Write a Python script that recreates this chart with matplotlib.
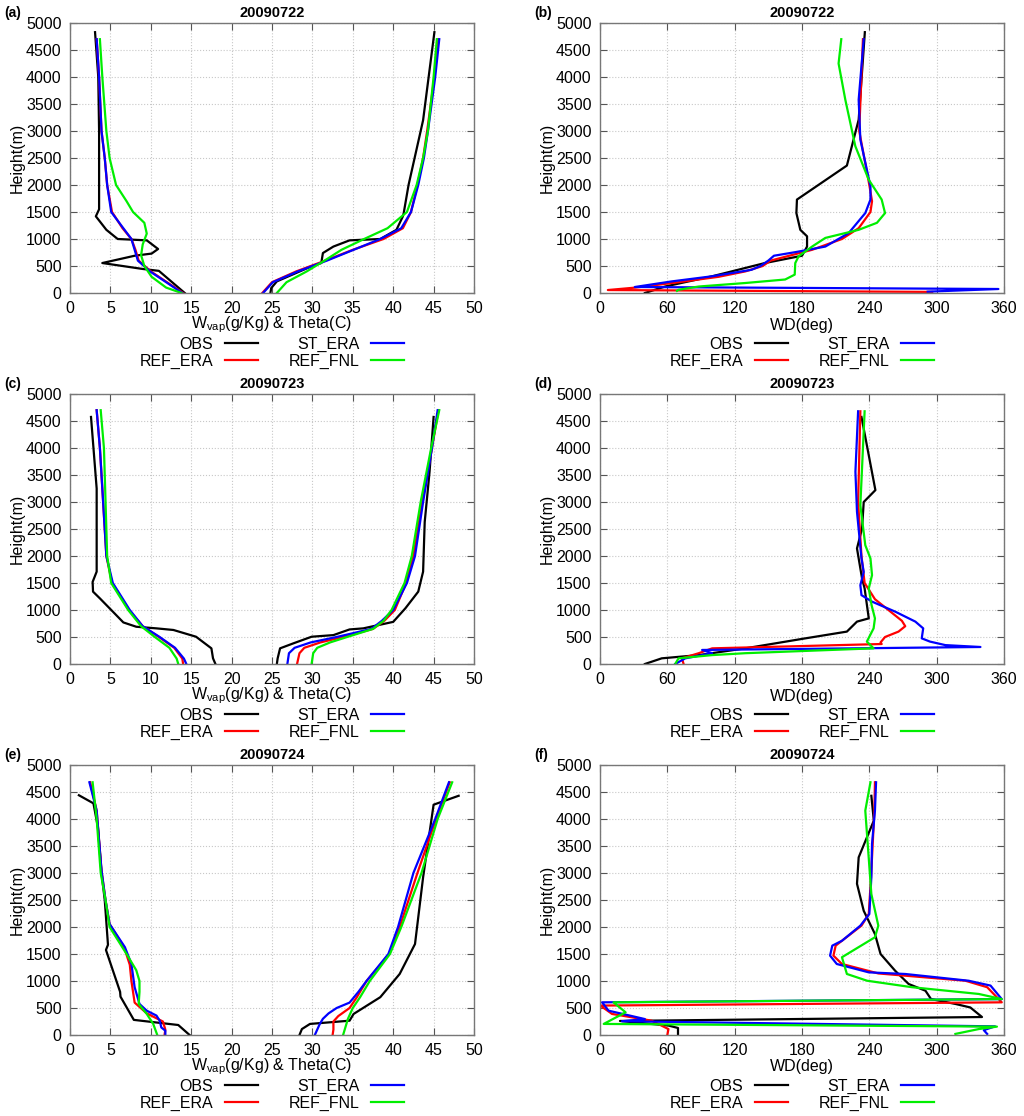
import matplotlib
matplotlib.use("Agg")
import matplotlib.pyplot as plt

plt.rcParams['font.family'] = ['Liberation Sans', 'DejaVu Sans']
plt.rcParams['mathtext.fontset'] = 'custom'
plt.rcParams['mathtext.rm'] = 'Liberation Sans'

# ---------------- DATA ----------------
# 20090722 water vapour (g/kg) / theta (C)
obs_wv_22 = [3.1, 3.5, 3.6, 3.6, 3.2, 4.5, 5.9, 9.5, 10.9, 10.1, 8.0, 4.0, 9.0, 11.0, 14.2]
obs_wvz_22 = [4830, 4000, 3000, 1550, 1420, 1170, 1000, 975, 815, 730, 690, 555, 445, 410, 0]
obs_th_22 = [45.1, 43.7, 41.9, 41.3, 41.2, 40.4, 38.4, 34.6, 32.6, 31.3, 31.1, 29.9, 25.6, 24.9, 24.8]
obs_thz_22 = [4830, 3200, 2000, 1480, 1420, 1170, 1000, 975, 860, 740, 555, 495, 215, 90, 0]
mod_z_22 = [4700, 4000, 3000, 2500, 2000, 1500, 1200, 1000, 800, 600, 400, 200, 0]
st_wv_22 = [3.3, 3.6, 3.9, 4.3, 4.6, 5.1, 6.6, 7.6, 8.0, 8.4, 9.9, 11.9, 13.9]
ref_wv_22 = [3.3, 3.6, 3.9, 4.3, 4.6, 5.2, 6.5, 7.6, 8.1, 8.5, 10.0, 12.0, 14.0]
fnl_wvz_22 = [4700, 4000, 3000, 2500, 2000, 1700, 1500, 1300, 1100, 900, 700, 500, 300, 100, 0]
fnl_wv_22 = [3.7, 4.0, 4.5, 4.9, 5.7, 7.0, 7.8, 9.2, 9.5, 9.0, 8.8, 9.2, 10.1, 11.9, 13.8]
st_th_22 = [45.7, 45.2, 44.3, 43.8, 43.1, 42.2, 41.0, 38.4, 35.1, 31.8, 28.2, 25.1, 23.9]
ref_th_22 = [45.6, 45.1, 44.2, 43.7, 43.0, 42.2, 41.2, 38.8, 35.0, 31.6, 28.0, 25.0, 23.8]
fnl_th_22 = [45.4, 45.0, 44.3, 43.7, 42.9, 41.7, 39.3, 36.4, 33.6, 31.5, 29.3, 26.8, 25.6]

# 20090722 wind direction (deg)
obs_wd_22 = [236, 230.5, 220, 175.5, 175, 178.5, 184.5, 184.5, 180, 147, 100, 58, 40]
obs_wdz_22 = [4830, 3210, 2360, 1730, 1480, 1170, 1050, 860, 690, 555, 310, 120, 0]
st_wd_22 = [235, 230.5, 232, 241, 241, 236.4, 221.6, 200.8, 175, 155, 150, 143, 135, 100, 64, 31, 355, 292]
st_wdz_22 = [4700, 3580, 2840, 1975, 1730, 1480, 1110, 860, 760, 690, 600, 500, 430, 310, 215, 111, 74, 25]
ref_wd_22 = [234.3, 231, 240, 242.4, 241, 230.5, 215.6, 189, 152, 145, 129.5, 105.7, 70, 31.5, 7, 296]
ref_wdz_22 = [4700, 3000, 2000, 1700, 1500, 1200, 1000, 800, 600, 500, 400, 300, 200, 100, 55, 20]
fnl_wd_22 = [215, 212.6, 218.6, 227.5, 239.4, 251, 254, 246.8, 230.5, 200.8, 189, 177, 174, 173.5, 165, 129.5, 88, 70, 68.6]
fnl_wdz_22 = [4700, 4250, 3580, 2720, 2100, 1730, 1480, 1300, 1170, 1020, 860, 680, 555, 340, 250, 185, 120, 60, 40]

# 20090723 water vapour / theta
obs_wv_23 = [2.6, 3.3, 3.3, 2.8, 2.85, 3.7, 5.3, 6.6, 8.2, 10.7, 12.8, 15.6, 17.5, 17.7, 18.0]
obs_wvz_23 = [4575, 3250, 1710, 1520, 1340, 1215, 970, 770, 690, 660, 630, 505, 290, 105, 0]
obs_th_23 = [45.0, 44.5, 43.9, 43.7, 43.1, 41.5, 40.0, 36.3, 34.6, 32.6, 29.9, 27.6, 26.0, 25.7, 25.6]
obs_thz_23 = [4575, 3560, 2630, 1710, 1340, 1030, 780, 660, 640, 535, 505, 380, 290, 105, 0]
wv_z_23 = [4700, 4000, 3000, 2000, 1500, 1000, 700, 500, 300, 100, 0]
st_wv_23 = [3.3, 3.7, 4.1, 4.5, 5.3, 7.4, 9.0, 11.1, 13.0, 14.1, 14.4]
ref_wv_23 = [3.3, 3.7, 4.1, 4.5, 5.2, 7.3, 9.0, 11.0, 12.9, 13.9, 14.0]
fnl_wv_23 = [3.8, 4.2, 4.4, 4.6, 5.1, 7.2, 8.8, 10.5, 12.3, 13.2, 13.4]
th_z_23 = [4700, 4000, 3000, 2000, 1500, 1000, 800, 650, 500, 400, 300, 200, 0]
st_th_23 = [45.5, 44.8, 43.7, 42.7, 41.7, 40.0, 38.6, 37.3, 33.0, 29.8, 27.8, 27.1, 26.9]
ref_th_23 = [45.6, 44.8, 43.6, 42.5, 41.6, 40.2, 38.9, 37.5, 33.8, 31.0, 29.0, 28.4, 28.1]
fnl_th_23 = [45.7, 44.7, 43.4, 42.3, 41.4, 39.8, 38.8, 37.5, 34.3, 32.2, 30.6, 30.1, 29.9]

# 20090723 wind direction
obs_wd_23 = [233, 245.4, 235, 233.5, 229, 233.5, 235.8, 239.5, 229, 220, 183, 129.5, 88, 55, 40]
obs_wdz_23 = [4575, 3220, 3000, 2510, 2140, 1585, 1400, 845, 785, 600, 475, 290, 165, 105, 0]
st_wd_23 = [230, 227.6, 229, 233, 235, 232, 233, 242.4, 263, 281, 288, 286.7, 294, 307.7, 339, 91, 100, 76, 67]
st_wdz_23 = [4680, 3560, 2820, 1955, 1705, 1460, 1275, 1155, 970, 785, 660, 475, 415, 350, 315, 260, 200, 105, 0]
ref_wd_23 = [232, 230, 233, 235.8, 245, 257, 269, 272, 266, 254, 250, 251, 100, 88, 73, 74.5]
ref_wdz_23 = [4680, 3000, 2000, 1500, 1200, 1000, 800, 700, 600, 500, 400, 370, 290, 200, 105, 0]
fnl_wd_23 = [235.8, 232, 236.4, 241, 242.4, 239.5, 242, 245, 243.8, 237.8, 243.8, 129.5, 100, 70, 67]
fnl_wdz_23 = [4680, 2940, 2200, 1955, 1645, 1400, 1090, 845, 660, 415, 290, 200, 165, 105, 0]

# 20090724 water vapour / theta
obs_wv_24 = [1.1, 2.9, 3.45, 3.9, 4.3, 4.7, 4.45, 6.2, 6.25, 7.9, 13.4, 14.8]
obs_wvz_24 = [4440, 4290, 3850, 3000, 2500, 1670, 1575, 800, 710, 280, 185, 0]
obs_th_24 = [48.1, 45.0, 43.7, 42.7, 40.8, 38.4, 35.1, 34.6, 29.7, 28.7, 28.4]
obs_thz_24 = [4430, 4265, 2920, 1685, 1130, 700, 390, 265, 205, 110, 0]
st_wv_24 = [2.4, 3.3, 3.9, 4.4, 4.9, 6.8, 7.6, 8.0, 8.6, 9.5, 10.7, 11.1, 11.3, 11.8, 11.8]
st_wvz_24 = [4680, 4155, 3045, 2490, 2055, 1625, 1315, 885, 575, 450, 360, 265, 140, 80, 0]
ref_wv_24 = [2.5, 3.3, 3.9, 4.4, 4.9, 6.7, 7.4, 7.6, 8.0, 9.5, 11.5, 11.8, 11.7]
ref_wvz_24 = [4680, 4155, 3045, 2490, 2055, 1625, 1300, 1000, 600, 400, 250, 100, 0]
fnl_wv_24 = [2.8, 3.3, 3.8, 4.4, 4.9, 7.0, 8.2, 8.6, 8.6, 8.5, 9.5, 10.3, 10.8]
fnl_wvz_24 = [4680, 4000, 3000, 2500, 2000, 1500, 1200, 1000, 800, 575, 390, 205, 0]
st_th_24 = [46.9, 45.2, 42.5, 40.6, 39.4, 36.7, 35.7, 34.6, 33.0, 32.0, 31.3, 30.9, 30.3]
st_thz_24 = [4680, 4000, 3000, 2000, 1500, 1000, 800, 600, 500, 400, 300, 200, 0]
ref_th_24 = [47.0, 45.3, 43.0, 40.8, 39.5, 36.7, 35.5, 34.6, 33.2, 32.6, 32.6, 32.5]
ref_thz_24 = [4680, 4000, 3000, 2000, 1500, 1000, 700, 500, 350, 250, 100, 0]
fnl_th_24 = [47.3, 45.5, 43.5, 41.0, 39.6, 37.1, 35.9, 35.0, 34.4, 34.0, 33.8]
fnl_thz_24 = [4680, 4000, 3000, 2000, 1500, 1000, 700, 500, 300, 100, 0]

# 20090724 wind direction
obs_wd_24 = [241.8, 244, 230.5, 229, 235, 245, 250, 263, 275, 290, 295, 316.7, 330, 340.4, 17.8, 61, 69.5, 69.5]
obs_wdz_24 = [4430, 3970, 3290, 2800, 2300, 1870, 1500, 1190, 945, 820, 665, 575, 510, 333, 260, 175, 130, 0]
st_wd_24 = [246, 245, 242.4, 241.8, 240, 232, 215.6, 207, 205, 211, 239.5, 272, 328.5, 348, 358, 1.8, 7.7, 40, 19.6, 352, 342, 345]
st_wdz_24 = [4680, 4155, 3540, 2920, 2240, 2025, 1745, 1655, 1470, 1315, 1160, 1130, 1005, 915, 665, 605, 450, 295, 255, 160, 90, 20]
ref_wd_24 = [245, 244.5, 241.5, 239.5, 233, 210, 208, 215.6, 248, 325.6, 345, 358, 0.3, 10.7, 46, 61, 60]
ref_wdz_24 = [4680, 4155, 2920, 2240, 2025, 1655, 1470, 1315, 1140, 1005, 885, 605, 545, 390, 265, 110, 0]
fnl_wd_24 = [241, 236.4, 241.8, 248, 245, 215.6, 220, 238, 278, 337.5, 358, 12, 22.8, 3.3, 353.7, 337.5, 316.7]
fnl_wdz_24 = [4680, 4155, 2610, 2025, 1810, 1440, 1130, 1005, 885, 760, 665, 605, 420, 205, 155, 110, 20]

dates = ['20090722', '20090723', '20090724']
labels = ['OBS', 'REF_ERA', 'ST_ERA', 'REF_FNL']
colors = ['black', '#ff0000', '#0000ff', '#00ee00']

left_data = [
    [(obs_wv_22, obs_wvz_22, obs_th_22, obs_thz_22),
     (ref_wv_22, mod_z_22, ref_th_22, mod_z_22),
     (st_wv_22, mod_z_22, st_th_22, mod_z_22),
     (fnl_wv_22, fnl_wvz_22, fnl_th_22, mod_z_22)],
    [(obs_wv_23, obs_wvz_23, obs_th_23, obs_thz_23),
     (ref_wv_23, wv_z_23, ref_th_23, th_z_23),
     (st_wv_23, wv_z_23, st_th_23, th_z_23),
     (fnl_wv_23, wv_z_23, fnl_th_23, th_z_23)],
    [(obs_wv_24, obs_wvz_24, obs_th_24, obs_thz_24),
     (ref_wv_24, ref_wvz_24, ref_th_24, ref_thz_24),
     (st_wv_24, st_wvz_24, st_th_24, st_thz_24),
     (fnl_wv_24, fnl_wvz_24, fnl_th_24, fnl_thz_24)],
]
right_data = [
    [(obs_wd_22, obs_wdz_22), (ref_wd_22, ref_wdz_22), (st_wd_22, st_wdz_22), (fnl_wd_22, fnl_wdz_22)],
    [(obs_wd_23, obs_wdz_23), (ref_wd_23, ref_wdz_23), (st_wd_23, st_wdz_23), (fnl_wd_23, fnl_wdz_23)],
    [(obs_wd_24, obs_wdz_24), (ref_wd_24, ref_wdz_24), (st_wd_24, st_wdz_24), (fnl_wd_24, fnl_wdz_24)],
]

# ---------------- FIGURE ----------------
W, H = 1024, 1116
fig = plt.figure(figsize=(W / 100, H / 100), dpi=100)

ax_w = 404 / W
ax_h = 270 / H
lefts = [70 / W, 600 / W]
tops = [23, 394, 765]
panel = 'abcdef'
fs = 11.5


def style_axes(ax):
    ax.set_ylim(0, 5000)
    ax.set_yticks(range(0, 5001, 500))
    ax.grid(True, color='#c8c8c8', linestyle=':', linewidth=0.8)
    ax.tick_params(direction='in', top=True, right=True, length=5, width=0.8,
                   color='#555555', labelsize=fs, pad=6)
    for s in ax.spines.values():
        s.set_color('#777777')
        s.set_linewidth(1.0)
    ax.set_ylabel('Height(m)', fontsize=fs, labelpad=1)


for r in range(3):
    bottom = 1 - (tops[r] + 270) / H
    for c in range(2):
        ax = fig.add_axes([lefts[c], bottom, ax_w, ax_h])
        style_axes(ax)
        handles = []
        if c == 0:
            for (wv, wz, th, tz), lab, col in zip(left_data[r], labels, colors):
                h, = ax.plot(wv, wz, color=col, lw=1.6, label=lab)
                ax.plot(th, tz, color=col, lw=1.6)
                handles.append(h)
            ax.set_xlim(0, 50)
            ax.set_xticks(range(0, 51, 5))
            ax.set_xlabel(r'W$_{\mathrm{vap}}$(g/Kg) & Theta(C)', fontsize=fs)
        else:
            for (wd, wz), lab, col in zip(right_data[r], labels, colors):
                h, = ax.plot(wd, wz, color=col, lw=1.6, label=lab)
                handles.append(h)
            ax.set_xlim(0, 360)
            ax.set_xticks(range(0, 361, 60))
            ax.set_xlabel('WD(deg)', fontsize=fs)
        ax.xaxis.set_label_coords(0.5, -32 / 270)
        ax.xaxis.label.set_va('center')
        ax.set_title(dates[r], fontsize=10.5, fontweight='bold', pad=4)
        ax.legend(handles=handles, loc='center', bbox_to_anchor=(0.5, -60 / 270),
                  ncol=2, markerfirst=False, frameon=False, fontsize=fs,
                  handlelength=2.1, handletextpad=0.7, columnspacing=1.9,
                  labelspacing=0.1, borderpad=0)
        x0 = 4 / W if c == 0 else 534 / W
        fig.text(x0, 1 - (tops[r] - 10) / H, '(%s)' % panel[r * 2 + c],
                 fontsize=10, fontweight='bold', va='center', ha='left')

fig.savefig('out.png', dpi=100)
